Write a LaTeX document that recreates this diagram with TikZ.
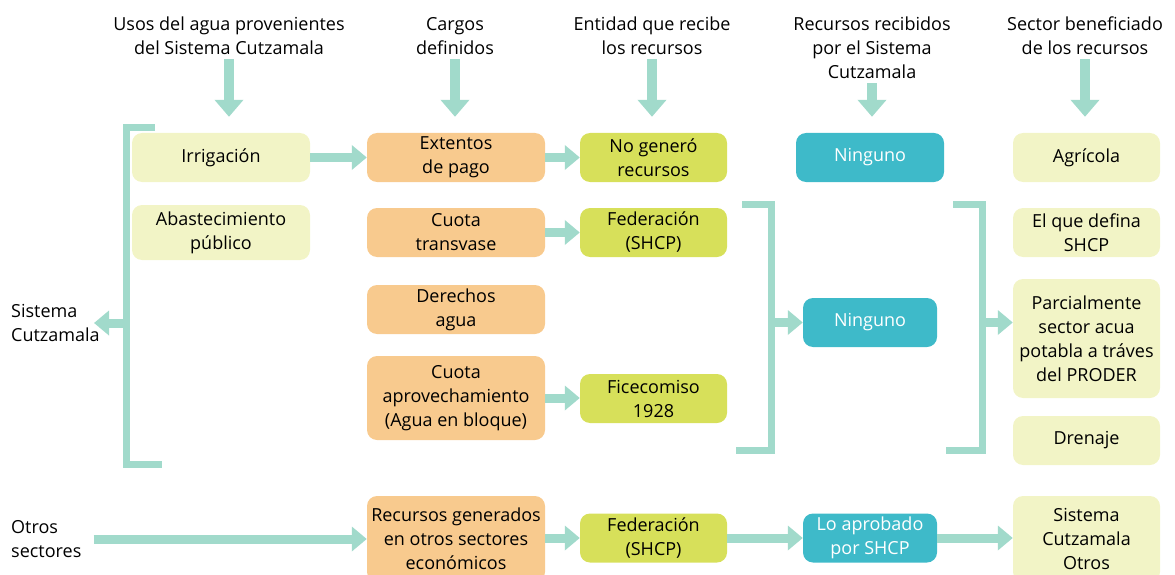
\documentclass[tikz,border=0pt]{standalone}
\usepackage{fontspec}
\setmainfont{Open Sans}
\usepackage{tikz}
\usetikzlibrary{arrows.meta}
\usepackage{xcolor}
\definecolor{flowgreen}{HTML}{A1DACB}
\definecolor{paleyellow}{HTML}{F2F4C6}
\definecolor{peach}{HTML}{F8CA8E}
\definecolor{limebox}{HTML}{D7E05A}
\definecolor{tealbox}{HTML}{3EBAC9}

\begin{document}
\begin{tikzpicture}[x=1pt, y=-1pt,
    every node/.style={font=\fontsize{18}{24}\selectfont, align=center, inner sep=2pt},
    box/.style={rounded corners=10pt, minimum height=49pt},
    usebox/.style={box, fill=paleyellow, minimum width=178pt},
    chargebox/.style={box, fill=peach, minimum width=178pt},
    entitybox/.style={box, fill=limebox, minimum width=147pt},
    resbox/.style={box, fill=tealbox, text=white, minimum width=134pt},
    sectorbox/.style={box, fill=paleyellow, minimum width=147pt},
    flow/.style={draw=flowgreen, line width=9pt, -{Triangle[width=24pt,length=15pt]}},
    down/.style={draw=flowgreen, line width=10pt, -{Triangle[width=28pt,length=17pt]}, shorten >=16pt, shorten <=2pt},
    bracket/.style={draw=flowgreen, line width=7pt}]
    \useasboundingbox (0,0) rectangle (1175,575);

    % Column headers
    \node (h1) at (229, 36) {Usos del agua provenientes\\del Sistema Cutzamala};
    \node (h2) at (455, 36) {Cargos\\definidos};
    \node (h3) at (652, 36) {Entidad que recibe\\los recursos};
    \node (h4) at (872, 48) {Recursos recibidos\\por el Sistema\\Cutzamala};
    \node (h5) at (1085, 36) {Sector beneficiado\\de los recursos};

    % Usos del agua
    \node[usebox] (irr) at (221, 157.5) {Irrigación};
    \node[usebox, minimum height=55pt] (abast) at (221, 232.5) {Abastecimiento\\público};

    % Cargos
    \node[chargebox] (ext) at (456, 157.5) {Extentos\\de pago};
    \node[chargebox] (transv) at (456, 232.5) {Cuota\\transvase};
    \node[chargebox] (der) at (456, 309.5) {Derechos\\agua};
    \node[chargebox, minimum height=84pt] (aprov) at (456, 398) {Cuota\\aprovechamiento\\(Agua en bloque)};
    \node[chargebox, minimum height=86pt] (recgen) at (456, 539) {Recursos generados\\en otros sectores\\económicos};

    % Entidades
    \node[entitybox] (nogen) at (653.5, 157.5) {No generó\\recursos};
    \node[entitybox] (fed) at (653.5, 232.5) {Federación\\(SHCP)};
    \node[entitybox] (fic) at (653.5, 398.5) {Ficecomiso\\1928};
    \node[entitybox] (fedb) at (653.5, 538) {Federación\\(SHCP)};

    % Recursos recibidos
    \node[resbox, minimum width=148pt] (nin) at (870, 157.5) {Ninguno};
    \node[resbox] (ninm) at (870, 322.5) {Ninguno};
    \node[resbox] (aprob) at (870, 538) {Lo aprobado\\por SHCP};

    % Sectores beneficiados
    \node[sectorbox] (agr) at (1086.5, 157.5) {Agrícola};
    \node[sectorbox] (shcp) at (1086.5, 232.5) {El que defina\\SHCP};
    \node[sectorbox, minimum height=119pt] (parc) at (1086.5, 338.5) {Parcialmente\\sector acua\\potabla a tráves\\del PRODER};
    \node[sectorbox] (dren) at (1086.5, 440.5) {Drenaje};
    \node[sectorbox, minimum height=86pt] (sco) at (1086.5, 539) {Sistema\\Cutzamala\\Otros};

    % Side labels
    \node[anchor=west, align=left] (sc) at (9, 323) {Sistema\\Cutzamala};
    \node[anchor=west, align=left] (os) at (9, 539) {Otros\\sectores};

    % Header arrows
    \draw[down] (h1) -- (h1 |- irr.north);
    \draw[down] (h2) -- (h2 |- ext.north);
    \draw[down] (h3) -- (h3 |- nogen.north);
    \draw[down] (h4) -- (h4 |- nin.north);
    \draw[down] (h5) -- (h5 |- agr.north);

    % Brackets
    \draw[bracket] (155, 128) -- (126.5, 128) -- (126.5, 464.5) -- (162, 464.5);
    \draw[bracket] (742, 204) -- (771, 204) -- (771, 450) -- (736, 450);
    \draw[bracket] (953, 204) -- (982.5, 204) -- (982.5, 450) -- (946, 450);
    \coordinate (lbar) at (126.5, 323);
    \coordinate (ltip) at (94, 323);
    \coordinate (mbar) at (771, 322.5);
    \coordinate (rbar) at (982.5, 322.5);

    % Flow arrows
    \draw[flow] (irr) -- (ext);
    \draw[flow] (ext) -- (nogen);
    \draw[flow] (transv) -- (fed);
    \draw[flow] (aprov) -- (aprov -| fic.west);
    \draw[flow] (lbar) -- (ltip);
    \draw[flow] (mbar) -- (ninm.west);
    \draw[flow] (rbar) -- (rbar -| parc.west);
    \draw[flow, shorten <=10pt] (os.east) -- (os.east -| recgen.west);
    \draw[flow] (recgen.east |- fedb) -- (fedb);
    \draw[flow] (fedb) -- (aprob);
    \draw[flow] (aprob) -- (aprob -| sco.west);
\end{tikzpicture}
\end{document}
